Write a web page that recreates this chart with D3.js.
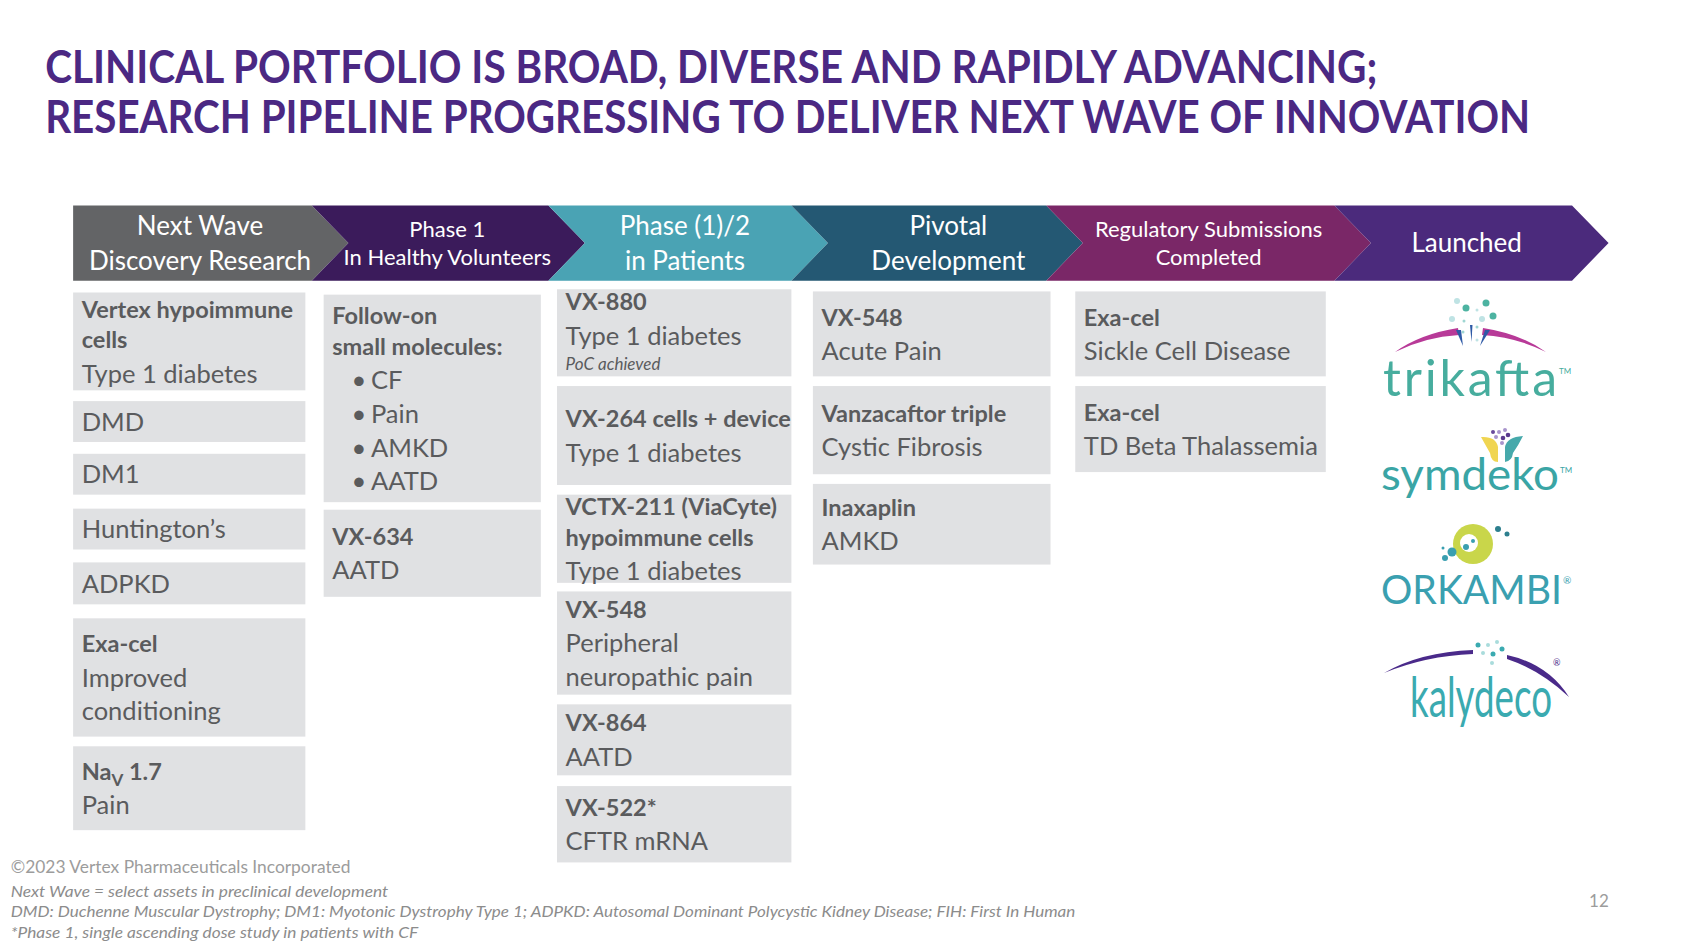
<!DOCTYPE html>
<html><head><meta charset="utf-8">
<script src="https://cdn.jsdelivr.net/npm/d3@7"></script>
<style>body{margin:0;background:#fff;} svg{display:block;}</style>
</head><body>
<svg id="c" width="1686" height="942"></svg>
<script>
// ---------------- DATA ----------------
const titleLines = [
  "CLINICAL PORTFOLIO IS BROAD, DIVERSE AND RAPIDLY ADVANCING;",
  "RESEARCH PIPELINE PROGRESSING TO DELIVER NEXT WAVE OF INNOVATION"
];
const stageLabels = [
  ["Next Wave", "Discovery Research"],
  ["Phase 1", "In Healthy Volunteers"],
  ["Phase (1)/2", "in Patients"],
  ["Pivotal", "Development"],
  ["Regulatory Submissions", "Completed"],
  ["Launched"]
];
// content of each column (b = bold, r = regular, i = small italic, u = bullet, n = Na-sub-V)
const colDiscovery = [
  [["Vertex hypoimmune","b"],["cells","b"],["Type 1 diabetes","r"]],
  [["DMD","r"]],
  [["DM1","r"]],
  [["Huntington’s","r"]],
  [["ADPKD","r"]],
  [["Exa-cel","b"],["Improved","r"],["conditioning","r"]],
  [["Na|V| 1.7","n"],["Pain","r"]]
];
const colPhase1 = [
  [["Follow-on","b"],["small molecules:","b"],["CF","u"],["Pain","u"],["AMKD","u"],["AATD","u"]],
  [["VX-634","b"],["AATD","r"]]
];
const colPhase2 = [
  [["VX-880","b"],["Type 1 diabetes","r"],["PoC achieved","i"]],
  [["VX-264 cells + device","b"],["Type 1 diabetes","r"]],
  [["VCTX-211 (ViaCyte)","b"],["hypoimmune cells","b"],["Type 1 diabetes","r"]],
  [["VX-548","b"],["Peripheral","r"],["neuropathic pain","r"]],
  [["VX-864","b"],["AATD","r"]],
  [["VX-522*","b"],["CFTR mRNA","r"]]
];
const colPivotal = [
  [["VX-548","b"],["Acute Pain","r"]],
  [["Vanzacaftor triple","b"],["Cystic Fibrosis","r"]],
  [["Inaxaplin","b"],["AMKD","r"]]
];
const colRegulatory = [
  [["Exa-cel","b"],["Sickle Cell Disease","r"]],
  [["Exa-cel","b"],["TD Beta Thalassemia","r"]]
];
const launchedProducts = ["trikafta","symdeko","ORKAMBI","kalydeco"];
const footnotes = [
  "©2023 Vertex Pharmaceuticals Incorporated",
  "Next Wave = select assets in preclinical development",
  "DMD: Duchenne Muscular Dystrophy; DM1: Myotonic Dystrophy Type 1; ADPKD: Autosomal Dominant Polycystic Kidney Disease; FIH: First In Human",
  "*Phase 1, single ascending dose study in patients with CF"
];
const pageNumber = "12";

// ---------------- LAYOUT (slide units, 1568 x 876) ----------------
const stageEdges = [68, 290, 510, 736, 973, 1241, 1462];
const stageLabelX = [186, 416, 637, 882, 1124, 1364];
const bandTop = 191, bandBottom = 261, notch = 34;
const colX = [[68,284],[301,503],[518,736],[756,977],[1000,1233]];
const spans = [
  [[272,363],[373,411],[422,460],[473,511],[523,562],[575,685],[694,772]],
  [[274,467],[474,555]],
  [[269,350],[359,451],[460,542],[550,646],[655,721],[731,802]],
  [[271,350],[359,441],[450,525]],
  [[271,350],[359,439]]
];
const stageColors = ["#636466","#3b1b5b","#4aa3b4","#245873","#7a2767","#4b2a7c"];
const stageFont = [26,22,26,26,22,26];
const textCol = "#5a5b5d";
const boxFill = "#e0e1e3";

// ---------------- DRAW ----------------
const W = 1686, H = 942;
const svg = d3.select("#c");
const sx = d3.scaleLinear().domain([0,1568]).range([0,W]);
const sy = d3.scaleLinear().domain([0,876]).range([0,H]);
const FONT = "Lato, 'Open Sans', sans-serif";

svg.append("rect").attr("width",W).attr("height",H).attr("fill","#fff");

// title
const titleBase = [77, 124], titleW = [1239, 1381];
svg.selectAll("text.title").data(titleLines).join("text")
  .attr("class","title")
  .attr("x", sx(42)).attr("y",(d,i)=>sy(titleBase[i]))
  .attr("font-family",FONT).attr("font-weight",700).attr("font-size",46)
  .attr("fill","#4b2883")
  .attr("textLength",(d,i)=>sx(titleW[i])).attr("lengthAdjust","spacingAndGlyphs")
  .text(d=>d);

// header chevrons
const mid = (bandTop+bandBottom)/2;
const segs = stageLabels.map((lab,i)=>({lab, i, x0:stageEdges[i], x1:stageEdges[i+1]}));
svg.append("g").selectAll("path").data(segs).join("path")
  .attr("d", s => {
    const pts = [[s.x0,bandTop],[s.x1,bandTop],[s.x1+notch,mid],[s.x1,bandBottom],[s.x0,bandBottom]];
    if (s.i>0) pts.push([s.x0+notch,mid]);
    return "M" + pts.map(p=>sx(p[0])+","+sy(p[1])).join("L") + "Z";
  })
  .attr("fill", s=>stageColors[s.i]);

const hl = svg.append("g");
segs.forEach(s => {
  const fs = stageFont[s.i];
  const gap = fs > 24 ? 32 : 26;
  const cx = stageLabelX[s.i];
  const n = s.lab.length;
  s.lab.forEach((t,j)=>{
    const cy = mid + (j-(n-1)/2)*gap;
    hl.append("text").attr("x",sx(cx)).attr("y",sy(cy)+0.36*fs)
      .attr("text-anchor","middle").attr("font-family",FONT).attr("font-size",fs)
      .attr("fill","#fff").text(t);
  });
});

// boxes
const columns = [colDiscovery, colPhase1, colPhase2, colPivotal, colRegulatory];
const gapFor = (p,c) => c[1]==="i" ? 26 : ((p[1]==="b"||p[1]==="n") && c[1]==="b" ? 28.5 : 31.3);
const FS = {r:25.5, b:23.5, i:17, u:25.5, n:23.5};
const gb = svg.append("g");
columns.forEach((col,ci)=>{
  const [cx0,cx1] = colX[ci];
  col.forEach((lines,bi)=>{
    const [top,bot] = spans[ci][bi];
    gb.append("rect").attr("x",sx(cx0)).attr("y",sy(top))
      .attr("width",sx(cx1)-sx(cx0)).attr("height",sy(bot)-sy(top)).attr("fill",boxFill);
    const offs=[0];
    for(let j=1;j<lines.length;j++) offs.push(offs[j-1]+gapFor(lines[j-1],lines[j]));
    const start = (top+bot)/2 - offs[offs.length-1]/2;
    lines.forEach((ln,j)=>{
      const [t,kind] = ln;
      const fs = FS[kind];
      const y = sy(start+offs[j]) + 0.36*fs;
      let x = sx(cx0+8);
      if (kind==="u") {
        gb.append("text").attr("x",sx(cx0+26)).attr("y",y).attr("font-family",FONT)
          .attr("font-size",fs).attr("fill",textCol).text("•");
        x = sx(cx0+44);
      }
      const te = gb.append("text").attr("x",x).attr("y",y).attr("font-family",FONT)
        .attr("font-size",fs).attr("fill",textCol)
        .attr("font-weight",(kind==="b"||kind==="n")?700:400)
        .attr("font-style",kind==="i"?"italic":"normal");
      if (kind==="n") {
        const parts = t.split("|");
        te.append("tspan").text(parts[0]);
        te.append("tspan").attr("dy",6).attr("font-size",17).text(parts[1]);
        te.append("tspan").attr("dy",-6).text(parts[2]);
      } else te.text(t);
    });
  });
});

// launched product marks (logo approximations)
const lg = svg.append("g");
const teal = "#47ad9e";
function dot(x,y,r,c){ lg.append("circle").attr("cx",x).attr("cy",y).attr("r",r).attr("fill",c); }
// trikafta
[[1457,301,3,"#bfe3e4"],[1466,308,3.5,"#4db3a1"],[1477,310,1.5,"#bfe3e4"],[1486,303,3.5,"#4db3a1"],
 [1493,316,3.5,"#4db3a1"],[1452,319,3,"#bfe3e4"],[1464,321,1.5,"#9fd6d2"],[1482,319,3,"#bfe3e4"],
 [1477,327,1.5,"#9fd6d2"],[1463,332,1.5,"#9fd6d2"],[1477,340,1.5,"#bfe3e4"]].forEach(d=>dot(...d));
lg.append("path").attr("d","M1395,352 Q1420,334 1458,328 L1459,335 Q1425,337 1395,352 Z").attr("fill","#b83a98");
lg.append("path").attr("d","M1546,352 Q1521,334 1483,328 L1482,335 Q1516,337 1546,352 Z").attr("fill","#b83a98");
lg.append("path").attr("d","M1456,330 L1461,330 L1463,346 Z").attr("fill","#2f5aa6");
lg.append("path").attr("d","M1485,330 L1490,330 L1480,346 Z").attr("fill","#2f5aa6");
lg.append("path").attr("d","M1470,325 L1472.5,325 L1471.5,342 Z").attr("fill","#2f5aa6");
lg.append("text").attr("x",1383).attr("y",396).attr("font-family",FONT).attr("font-size",50)
  .attr("fill",teal).attr("textLength",174).attr("lengthAdjust","spacing").text(launchedProducts[0]);
lg.append("text").attr("x",1559).attr("y",374).attr("font-family",FONT).attr("font-size",8).attr("fill",teal).text("TM");
// symdeko
lg.append("path").attr("d","M1481,437 Q1496,436 1498,447 L1498,462 Q1491,462 1490,453 Q1486,446 1481,437 Z").attr("fill","#f0d551");
lg.append("path").attr("d","M1523,436 Q1507,437 1505,447 L1505,462 Q1512,461 1513,453 Q1518,446 1523,436 Z").attr("fill","#46a9ab");
[[1493,432,2,"#6a4b9c"],[1499,432,2,"#a894cc"],[1505,430,2,"#a894cc"],[1496,437,2,"#a894cc"],
 [1503,438,2.3,"#5b3a8e"],[1508,435,2.3,"#5b3a8e"],[1502,443,2,"#a894cc"]].forEach(d=>dot(...d));
lg.append("text").attr("x",1381).attr("y",490).attr("font-family",FONT).attr("font-size",45)
  .attr("fill","#3aa5a5").attr("textLength",178).attr("lengthAdjust","spacingAndGlyphs").text(launchedProducts[1]);
lg.append("text").attr("x",1560).attr("y",473).attr("font-family",FONT).attr("font-size",8).attr("fill","#3aa5a5").text("TM");
// ORKAMBI
lg.append("circle").attr("cx",1473).attr("cy",544).attr("r",20).attr("fill","#c9d64a");
lg.append("path").attr("d","M1473,526 A18,18 0 0 1 1476,562 A14,14 0 0 0 1473,526 Z").attr("fill","#3a9db0");
lg.append("circle").attr("cx",1469).attr("cy",543).attr("r",9).attr("fill","#fff");
dot(1466,547,3,"#3a9fb0"); dot(1473,541,2,"#3a9fb0");
dot(1498,529,3,"#2d7f8e"); dot(1507,534,2.5,"#2d7f8e");
dot(1452,552,4.5,"#3a9fb0"); dot(1445,558,3,"#3a9fb0"); dot(1443,548,1.5,"#3a9fb0");
lg.append("text").attr("x",1381).attr("y",604).attr("font-family",FONT).attr("font-size",40)
  .attr("fill","#3aa0b0").attr("textLength",181).attr("lengthAdjust","spacingAndGlyphs").text(launchedProducts[2]);
lg.append("text").attr("x",1563).attr("y",584).attr("font-family",FONT).attr("font-size",10).attr("fill","#3aa0b0").text("®");
// kalydeco
lg.append("path").attr("d","M1384,673 Q1420,652 1473,650 L1473,654 Q1425,656 1384,673 Z").attr("fill","#4a2a8a");
lg.append("path").attr("d","M1507,655 Q1548,664 1569,697 Q1540,670 1507,659 Z").attr("fill","#4a2a8a");
[[1478,645,2.5,"#3aaab0"],[1488,645,2,"#a9dcdc"],[1497,642,2,"#a9dcdc"],[1483,653,2,"#a9dcdc"],
 [1493,654,2.5,"#3aaab0"],[1502,649,2.5,"#3aaab0"],[1492,663,2,"#a9dcdc"]].forEach(d=>dot(...d));
lg.append("text").attr("x",1410).attr("y",717).attr("font-family",FONT).attr("font-size",56)
  .attr("fill","#3aaab0").attr("textLength",142).attr("lengthAdjust","spacingAndGlyphs").text(launchedProducts[3]);
lg.append("text").attr("x",1553).attr("y",666).attr("font-family",FONT).attr("font-size",9).attr("fill","#4a2a8a").text("®");

// footnotes
const fBase = [812, 834, 853, 872], fW = [316, 351, 990, 379];
svg.selectAll("text.fn").data(footnotes).join("text")
  .attr("class","fn").attr("x",sx(10)).attr("y",(d,i)=>sy(fBase[i]))
  .attr("font-family",FONT).attr("font-size",(d,i)=>i===0?17:15.5)
  .attr("font-style",(d,i)=>i===0?"normal":"italic")
  .attr("fill",(d,i)=>i===0?"#9c9c9c":"#8c8c8c")
  .attr("textLength",(d,i)=>sx(fW[i])).attr("lengthAdjust","spacingAndGlyphs")
  .text(d=>d);
svg.append("text").attr("x",sx(1487)).attr("y",sy(843)).attr("text-anchor","middle")
  .attr("font-family",FONT).attr("font-size",17).attr("fill","#9c9c9c").text(pageNumber);
</script>
</body></html>
